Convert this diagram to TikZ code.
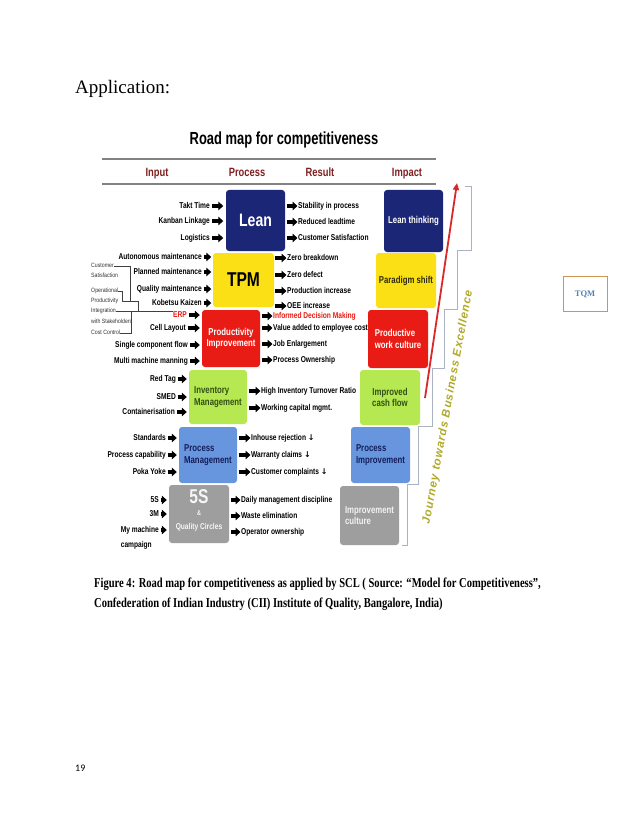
\documentclass[tikz,border=0pt]{standalone}
\usepackage{fontspec}
\usetikzlibrary{arrows.meta}
\newfontfamily\nar{Liberation Sans}[FakeStretch=0.84]
\newfontfamily\narb{Liberation Sans Bold}[FakeStretch=0.78]
\newfontfamily\ttlf{Liberation Sans Bold}[FakeStretch=0.74]
\newfontfamily\jrnf{Liberation Sans Bold Italic}[LetterSpace=8]
\newfontfamily\capf{Liberation Serif Bold}[FakeStretch=0.775]
\newfontfamily\appf{Liberation Serif}
\newfontfamily\tqmf{Liberation Serif Bold}
\newfontfamily\pagenumf{Carlito}
\newfontfamily\djv{DejaVu Sans Bold}
\definecolor{navyb}{RGB}{28,38,118}
\definecolor{yelb}{RGB}{250,224,20}
\definecolor{redb}{RGB}{232,28,20}
\definecolor{grnb}{RGB}{182,232,82}
\definecolor{blub}{RGB}{104,150,222}
\definecolor{gryb}{RGB}{158,158,158}
\definecolor{hdr}{RGB}{128,32,32}
\definecolor{jrn}{RGB}{176,170,40}
\definecolor{stair}{RGB}{170,178,196}
\definecolor{arrred}{RGB}{218,40,40}
\definecolor{invtxt}{RGB}{50,80,20}
\definecolor{pmtxt}{RGB}{20,30,90}
\definecolor{tqmb}{RGB}{205,150,85}
\definecolor{tqmt}{RGB}{79,129,189}
\definecolor{lineg}{RGB}{130,130,130}
\definecolor{pstxt}{RGB}{50,45,10}
\tikzset{
  bx/.style={rounded corners=3pt, inner sep=1pt, align=center},
  boxf/.style={font=\narb\fontsize{10}{11.5}\selectfont},
  inl/.style={anchor=east, inner sep=0pt, text height=6.3pt, text depth=1.8pt, font=\narb\fontsize{8.5}{9}\selectfont},
  resl/.style={anchor=west, inner sep=0pt, text height=6.3pt, text depth=1.8pt, font=\narb\fontsize{8.5}{9}\selectfont},
  arr/.style={line width=3.4pt, -{Triangle[length=5pt,width=8.5pt]}},
  hd/.style={anchor=base, inner sep=0pt, text=hdr, font=\narb\fontsize{12}{13}\selectfont},
  sml/.style={anchor=west, inner sep=0pt, text height=4.5pt, text depth=1.3pt, font=\nar\fontsize{6.2}{6.5}\selectfont, text=black!80},
  brk/.style={line width=0.6pt, black!75},
  fst/.style={inner sep=0pt, text=white!93!gray},
}
\begin{document}
\begin{tikzpicture}[x=1pt,y=-1pt]
\fill[white] (0,0) rectangle (638,826);
\useasboundingbox (0,0) rectangle (638,826);

\node[anchor=base west, inner sep=0pt, font=\appf\fontsize{19}{20}\selectfont] (app) at (75,94) {Application:};

% title and header
\node[anchor=base, inner sep=0pt, font=\ttlf\fontsize{17.5}{18}\selectfont] (title) at (284,145) {Road map for competitiveness};
\coordinate (l1a) at (102,159); \coordinate (l1b) at (436,159);
\coordinate (l2a) at (102,184); \coordinate (l2b) at (436,184);
\draw[line width=1.6pt, lineg] (l1a) -- (l1b);
\draw[line width=1.6pt, lineg] (l2a) -- (l2b);
\node[hd] (hin) at (157,177) {Input};
\node[hd] (hpr) at (247,177) {Process};
\node[hd] (hre) at (320,177) {Result};
\node[hd] (him) at (407,177) {Impact};

% process boxes
\node[bx, fill=navyb, minimum width=59, minimum height=61, text=white, font=\narb\fontsize{18}{18}\selectfont] (lean) at (255.5,220.5) {Lean};
\node[bx, fill=yelb, minimum width=61, minimum height=54, font=\narb\fontsize{20}{20}\selectfont] (tpm) at (243.5,280) {TPM};
\node[bx, boxf, fill=redb, minimum width=58, minimum height=57, text=white] (prod) at (231,338.5) {Productivity\\Improvement};
\node[bx, boxf, fill=grnb, minimum width=58, minimum height=54, text=invtxt, align=left] (inv) at (218,397) {Inventory\\Management};
\node[bx, boxf, fill=blub, minimum width=58, minimum height=56, text=pmtxt, align=left] (pm) at (208,455) {Process\\Management};
\node[bx, fill=gryb, minimum width=60, minimum height=58] (fs) at (199,514) {};
\node[fst, font=\narb\fontsize{20}{20}\selectfont] (fs1) at (199,497) {5S};
\node[fst, font=\narb\fontsize{7}{7}\selectfont] (fs2) at (199,513) {\&};
\node[fst, font=\narb\fontsize{8.5}{9}\selectfont] (fs3) at (199,527) {Quality Circles};

% impact boxes
\node[bx, boxf, fill=navyb, minimum width=59, minimum height=62, text=white] (lt) at (413.5,221) {Lean thinking};
\node[bx, boxf, fill=yelb, minimum width=60, minimum height=55, text=pstxt] (ps) at (406,280.5) {Paradigm shift};
\node[bx, boxf, fill=redb, minimum width=60, minimum height=58, text=white, align=left] (pw) at (398,339) {Productive\\work culture};
\node[bx, boxf, fill=grnb, minimum width=60, minimum height=55, text=invtxt] (cf) at (390,397.5) {Improved\\cash flow};
\node[bx, boxf, fill=blub, minimum width=59, minimum height=56, text=pmtxt, align=left] (pi) at (380.5,455) {Process\\Improvement};
\node[bx, boxf, fill=gryb, minimum width=59, minimum height=59, text=white!90!gray, align=left] (ic) at (369.5,515.5) {Improvement\\culture};

% inputs
\node[inl] (i1) at (210,206) {Takt Time};
\node[inl] (i2) at (210,221) {Kanban Linkage};
\node[inl] (i3) at (210,238) {Logistics};
\foreach \n in {i1,i2,i3} \draw[arr, shorten <=2pt, shorten >=2.5pt] (\n.east) -- (\n.east -| lean.west);
\node[inl] (i4) at (202,257) {Autonomous maintenance};
\node[inl] (i5) at (202,272) {Planned maintenance};
\node[inl] (i6) at (202,289) {Quality maintenance};
\node[inl] (i7) at (202,303) {Kobetsu Kaizen};
\foreach \n in {i4,i5,i6,i7} \draw[arr, shorten <=1.5pt, shorten >=1.5pt] (\n.east) -- (\n.east -| tpm.west);
\node[inl, text=redb] (i8) at (187,315) {ERP};
\node[inl] (i9) at (186,328) {Cell Layout};
\node[inl] (i10) at (188,345) {Single component flow};
\node[inl] (i11) at (188,361) {Multi machine manning};
\foreach \n in {i8,i9,i10,i11} \draw[arr, shorten <=1.5pt, shorten >=2pt] (\n.east) -- (\n.east -| prod.west);
\node[inl] (i12) at (176,379) {Red Tag};
\node[inl] (i13) at (176,397) {SMED};
\node[inl] (i14) at (175,412) {Containerisation};
\foreach \n in {i12,i13,i14} \draw[arr, shorten <=1.5pt, shorten >=2pt] (\n.east) -- (\n.east -| inv.west);
\node[inl] (i15) at (166,438) {Standards};
\node[inl] (i16) at (166,455) {Process capability};
\node[inl] (i17) at (166,472) {Poka Yoke};
\foreach \n in {i15,i16,i17} \draw[arr, shorten <=1.5pt, shorten >=2pt] (\n.east) -- (\n.east -| pm.west);
\node[inl] (i18) at (159,500) {5S};
\node[inl] (i19) at (159,514) {3M};
\node[inl] (i20) at (159,530) {My machine};
\coordinate (cy) at (0,545);
\node[resl] (i21) at (i20.west |- cy) {campaign};
\foreach \n in {i18,i19,i20} \draw[arr, shorten <=1.5pt, shorten >=2pt] (\n.east) -- (\n.east -| fs.west);

% bracket labels at far left
\node[sml] (b1) at (91,266) {Customer};
\node[sml] (b2) at (91,276) {Satisfaction};
\node[sml] (b3) at (91,291) {Operational};
\node[sml] (b4) at (91,301) {Productivity};
\node[sml] (b5) at (91,311) {Integration};
\node[sml] (b6) at (91,322) {with Stakeholders};
\node[sml] (b7) at (91,333) {Cost Control};
\coordinate (k1) at (122,0); \coordinate (k2) at (130,0); \coordinate (k3) at (138,0); \coordinate (k4) at (131,0);
\coordinate (yj) at (0,301);
\draw[brk] (b1.east) -- (b1.east -| k2) -- (yj -| k2) -- (yj -| k3) -- (b5.east -| k3);
\draw[brk] (b3.east) -- (b3.east -| k1) -- (yj -| k1) -- (yj -| k2);
\draw[brk] (b5.east) -- (b5.east -| i8.west);
\draw[brk] (b7.east) -- (b7.east -| k4) -- (b5.east -| k4);

% results
\node[resl] (r1) at (298,206) {Stability in process};
\node[resl] (r2) at (298,222) {Reduced leadtime};
\node[resl] (r3) at (298,238) {Customer Satisfaction};
\foreach \n in {r1,r2,r3} \draw[arr, shorten <=1.5pt, shorten >=0.5pt] (\n.west -| lean.east) -- (\n.west);
\node[resl] (r4) at (287,258) {Zero breakdown};
\node[resl] (r5) at (287,275) {Zero defect};
\node[resl] (r6) at (287,291) {Production increase};
\node[resl] (r7) at (287,306) {OEE increase};
\foreach \n in {r4,r5,r6,r7} \draw[arr, shorten <=0.5pt, shorten >=0.5pt] (\n.west -| tpm.east) -- (\n.west);
\node[resl, text=redb] (r8) at (273,316) {Informed Decision Making};
\node[resl] (r9) at (273,328) {Value added to employee cost};
\node[resl] (r10) at (273,344) {Job Enlargement};
\node[resl] (r11) at (273,360) {Process Ownership};
\foreach \n in {r8,r9,r10,r11} \draw[arr, shorten <=1.5pt, shorten >=0.5pt] (\n.west -| prod.east) -- (\n.west);
\node[resl] (r12) at (261,391) {High Inventory Turnover Ratio};
\node[resl] (r13) at (261,408) {Working capital mgmt.};
\foreach \n in {r12,r13} \draw[arr, shorten <=1.5pt, shorten >=0.5pt] (\n.west -| inv.east) -- (\n.west);
\node[resl] (r14) at (251,438) {Inhouse rejection {\djv\fontsize{8}{8}\selectfont ↓}};
\node[resl] (r15) at (251,455) {Warranty claims {\djv\fontsize{8}{8}\selectfont ↓}};
\node[resl] (r16) at (251,472) {Customer complaints {\djv\fontsize{8}{8}\selectfont ↓}};
\foreach \n in {r14,r15,r16} \draw[arr, shorten <=1.5pt, shorten >=0.5pt] (\n.west -| pm.east) -- (\n.west);
\node[resl] (r17) at (241,500) {Daily management discipline};
\node[resl] (r18) at (241,516) {Waste elimination};
\node[resl] (r19) at (241,532) {Operator ownership};
\foreach \n in {r17,r18,r19} \draw[arr, shorten <=1.5pt, shorten >=0.5pt] (\n.west -| fs.east) -- (\n.west);

% staircase and journey arrow
\coordinate (s0) at (465,186);
\draw[stair, line width=0.9pt] (s0) -- (471,186) -- (471,250) -- (457,250) -- (457,309) -- (444,309) -- (444,368) -- (432,368) -- (432,426) -- (418,426) -- (418,484) -- (407,484) -- (407,545) -- (402,545);
\coordinate (ra1) at (425,398); \coordinate (ra2) at (457,183);
\draw[line width=1.8pt, arrred, -{Triangle[length=7pt,width=6pt]}] (ra1) -- (ra2);
\node[rotate=79.6, inner sep=0pt, text=jrn, font=\jrnf\fontsize{11.5}{12}\selectfont] (jr) at (448,407) {Journey towards Business Excellence};

% caption
\node[anchor=base west, inner sep=0pt, font=\capf\fontsize{13.6}{14}\selectfont] (cap1) at (94,587) {Figure 4: Road map for competitiveness as applied by SCL ( Source: “Model for Competitiveness”,};
\node[anchor=base west, inner sep=0pt, font=\capf\fontsize{13.6}{14}\selectfont] (cap2) at (94,607) {Confederation of Indian Industry (CII) Institute of Quality, Bangalore, India)};

% TQM box
\node[draw=tqmb, line width=0.8pt, minimum width=44, minimum height=35, text=tqmt, font=\tqmf\fontsize{8.5}{9}\selectfont] (tqm) at (585,294) {TQM};

\node[anchor=base west, inner sep=0pt, font=\pagenumf\fontsize{10}{11}\selectfont] (pg) at (75,771) {19};
\end{tikzpicture}
\end{document}
